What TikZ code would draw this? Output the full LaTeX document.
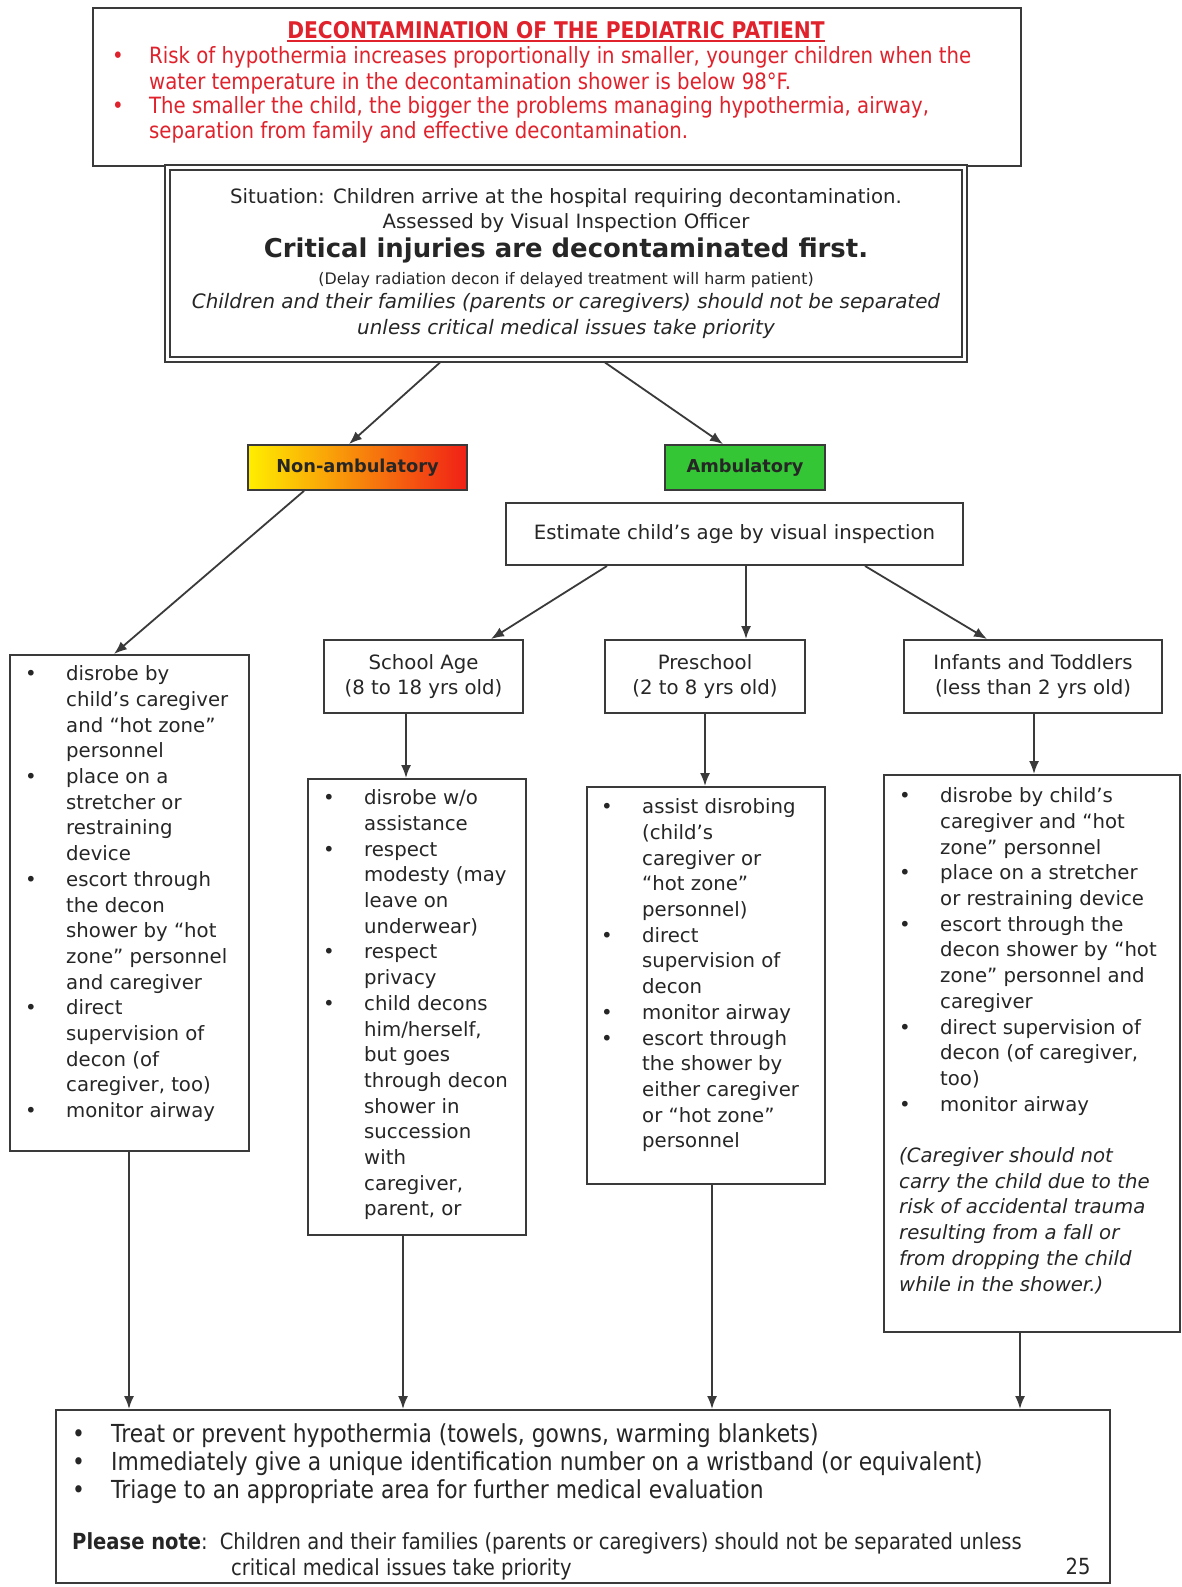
\documentclass[tikz,border=0pt]{standalone}
\usepackage{fontspec}
\setmainfont{DejaVu Sans}
\newfontfamily\condfont{DejaVu Sans}[FakeStretch=0.88,Ligatures=TeX]
\usetikzlibrary{arrows.meta}

\definecolor{framegray}{RGB}{58,58,58}
\definecolor{inkgray}{RGB}{38,38,38}
\definecolor{alertred}{RGB}{224,34,44}
\definecolor{walkgreen}{RGB}{52,198,52}
\definecolor{shadeyellow}{RGB}{255,238,0}
\definecolor{shadered}{RGB}{240,32,22}

\newcommand{\bodyfont}{\fontsize{19.7}{25.7}\selectfont}
\newcommand{\redfont}{\condfont\fontsize{22.4}{24.3}\selectfont}
\newcommand{\basefont}{\condfont\fontsize{24.8}{28}\selectfont}
\newcommand{\notefont}{\condfont\fontsize{22.2}{26}\selectfont}
\newcommand{\bmark}[1][41pt]{\strut\makebox[#1][l]{\textbullet}}
\newcommand{\bskip}[1][41pt]{\hspace*{#1}}

\begin{document}
\begin{tikzpicture}[x=1pt, y=-1pt,
  every node/.style={inner sep=0pt},
  frame/.style={draw=framegray, line width=2pt, fill=white},
  agebox/.style={frame, minimum height=73, font=\bodyfont, text=inkgray, align=center},
  listtext/.style={anchor=north west, align=left, font=\bodyfont, text=inkgray},
  tagbox/.style={draw=framegray, line width=1.8pt, minimum height=45,
                 font=\fontsize{17.8}{21}\selectfont\bfseries, text=inkgray},
  arr/.style={draw=framegray, line width=1.8pt, -{Latex[length=13pt,width=10pt]}}
]
\fill[white, use as bounding box] (0,0) rectangle (1182,1587);

% HEADER
\node[frame, minimum width=928, minimum height=158] (alertbox) at (557,87) {};
\node[font={\condfont\bfseries\fontsize{23}{26}\selectfont}, text=alertred] (alerttitle) at (556,30)
  {DECONTAMINATION OF THE PEDIATRIC PATIENT};
\draw[alertred, line width=1.8pt] ([yshift=-3pt]alerttitle.base west) -- ([yshift=-3pt]alerttitle.base east);
\node[listtext, font=\redfont, text=alertred] (alerttext) at ([xshift=20pt,yshift=-39.5pt]alertbox.north west) {
  \bmark[37pt]Risk of hypothermia increases proportionally in smaller, younger children when the\\
  \bskip[37pt]water temperature in the decontamination shower is below 98°F.\\
  \bmark[37pt]The smaller the child, the bigger the problems managing hypothermia, airway,\\
  \bskip[37pt]separation from family and effective decontamination.};

% SITUATION
\node[frame, double=white, double distance=2.5pt, line width=1.8pt, outer sep=3pt,
      minimum width=797, minimum height=192, align=center, font=\bodyfont, text=inkgray] (situation) at (566,263.5) {
  Situation: Children arrive at the hospital requiring decontamination.\\
  Assessed by Visual Inspection Officer\\[3pt]
  {\bfseries\fontsize{25.9}{30}\selectfont Critical injuries are decontaminated first.}\\[1pt]
  {\fontsize{15.9}{19}\selectfont (Delay radiation decon if delayed treatment will harm patient)}\\[-1pt]
  {\itshape\fontsize{19.9}{25.7}\selectfont Children and their families (parents or caregivers) should not be separated}\\
  {\itshape\fontsize{19.9}{25.7}\selectfont unless critical medical issues take priority}};

% SPLIT
\node[tagbox, minimum width=219, left color=shadeyellow, right color=shadered] (nonamb) at (357.5,467.5) {Non-ambulatory};
\node[tagbox, minimum width=160, fill=walkgreen] (amb) at (745,467.5) {Ambulatory};
\node[frame, minimum width=457, minimum height=62, font=\bodyfont, text=inkgray] (estimate) at (734.5,534)
  {Estimate child's age by visual inspection};

% AGE GROUPS
\node[agebox, minimum width=199] (schoolage) at (423.5,676.5) {School Age\\(8 to 18 yrs old)};
\node[agebox, minimum width=200] (preschool) at (705,676.5) {Preschool\\(2 to 8 yrs old)};
\node[agebox, minimum width=258] (infants) at (1033,676.5) {Infants and Toddlers\\(less than 2 yrs old)};

% LISTS
\node[frame, minimum width=239, minimum height=496] (carebox) at (129.5,903) {};
\node[listtext] (caretext) at ([xshift=16pt,yshift=-8.5pt]carebox.north west) {
  \bmark disrobe by\\
  \bskip child's caregiver\\
  \bskip and ``hot zone''\\
  \bskip personnel\\
  \bmark place on a\\
  \bskip stretcher or\\
  \bskip restraining\\
  \bskip device\\
  \bmark escort through\\
  \bskip the decon\\
  \bskip shower by ``hot\\
  \bskip zone'' personnel\\
  \bskip and caregiver\\
  \bmark direct\\
  \bskip supervision of\\
  \bskip decon (of\\
  \bskip caregiver, too)\\
  \bmark monitor airway};

\node[frame, minimum width=218, minimum height=456] (schoolbox) at (417,1007) {};
\node[listtext] (schooltext) at ([xshift=16pt,yshift=-8.5pt]schoolbox.north west) {
  \bmark disrobe w/o\\
  \bskip assistance\\
  \bmark respect\\
  \bskip modesty (may\\
  \bskip leave on\\
  \bskip underwear)\\
  \bmark respect\\
  \bskip privacy\\
  \bmark child decons\\
  \bskip him/herself,\\
  \bskip but goes\\
  \bskip through decon\\
  \bskip shower in\\
  \bskip succession\\
  \bskip with\\
  \bskip caregiver,\\
  \bskip parent, or};

\node[frame, minimum width=238, minimum height=397] (prebox) at (706,985.5) {};
\node[listtext] (pretext) at ([xshift=15pt,yshift=-9.5pt]prebox.north west) {
  \bmark assist disrobing\\
  \bskip (child's\\
  \bskip caregiver or\\
  \bskip ``hot zone''\\
  \bskip personnel)\\
  \bmark direct\\
  \bskip supervision of\\
  \bskip decon\\
  \bmark monitor airway\\
  \bmark escort through\\
  \bskip the shower by\\
  \bskip either caregiver\\
  \bskip or ``hot zone''\\
  \bskip personnel};

\node[frame, minimum width=296, minimum height=557] (infantbox) at (1032,1053.5) {};
\node[listtext] (infanttext) at ([xshift=16pt,yshift=-10.5pt]infantbox.north west) {
  \bmark disrobe by child's\\
  \bskip caregiver and ``hot\\
  \bskip zone'' personnel\\
  \bmark place on a stretcher\\
  \bskip or restraining device\\
  \bmark escort through the\\
  \bskip decon shower by ``hot\\
  \bskip zone'' personnel and\\
  \bskip caregiver\\
  \bmark direct supervision of\\
  \bskip decon (of caregiver,\\
  \bskip too)\\
  \bmark monitor airway\\[25.7pt]
  \itshape (Caregiver should not\\
  \itshape carry the child due to the\\
  \itshape risk of accidental trauma\\
  \itshape resulting from a fall or\\
  \itshape from dropping the child\\
  \itshape while in the shower.)};

% AFTER DECON
\node[frame, minimum width=1054, minimum height=173] (triage) at (583,1496.5) {};
\node[listtext, font=\basefont] (triagetext) at ([xshift=17pt,yshift=-14pt]triage.north west) {
  \bmark[39pt]Treat or prevent hypothermia (towels, gowns, warming blankets)\\
  \bmark[39pt]Immediately give a unique identification number on a wristband (or equivalent)\\
  \bmark[39pt]Triage to an appropriate area for further medical evaluation};
\node[listtext, font=\notefont] (triagenote) at ([xshift=17pt,yshift=-122pt]triage.north west) {
  \strut\textbf{Please note}:\hspace{12pt}Children and their families (parents or caregivers) should not be separated unless\\
  \bskip[159pt]critical medical issues take priority};
\node[font=\notefont, text=inkgray] (pagenum) at (1078,1566) {25};

% CONNECTORS
\draw[arr] ([xshift=-126pt]situation.south) -- ([xshift=-8.5pt]nonamb.north);
\draw[arr] ([xshift=39pt]situation.south) -- ([xshift=-22pt]amb.north);
\draw[arr] ([xshift=-53.5pt]nonamb.south) -- ([xshift=-15.5pt]carebox.north);
\draw[arr] ([xshift=-127.5pt]estimate.south) -- ([xshift=67.5pt]schoolage.north);
\draw[arr] ([xshift=11.5pt]estimate.south) -- ([xshift=41pt]preschool.north);
\draw[arr] ([xshift=130.5pt]estimate.south) -- ([xshift=-46pt]infants.north);
\draw[arr] ([xshift=-17.5pt]schoolage.south) -- ([xshift=-11pt]schoolbox.north);
\draw[arr] (preschool.south) -- ([xshift=-1pt]prebox.north);
\draw[arr] ([xshift=1pt]infants.south) -- ([xshift=2pt]infantbox.north);
\draw[arr] ([xshift=-0.5pt]carebox.south) -- ([xshift=-454pt]triage.north);
\draw[arr] ([xshift=-14pt]schoolbox.south) -- ([xshift=-180pt]triage.north);
\draw[arr] ([xshift=6pt]prebox.south) -- ([xshift=129pt]triage.north);
\draw[arr] ([xshift=-12pt]infantbox.south) -- ([xshift=437pt]triage.north);
\end{tikzpicture}
\end{document}
